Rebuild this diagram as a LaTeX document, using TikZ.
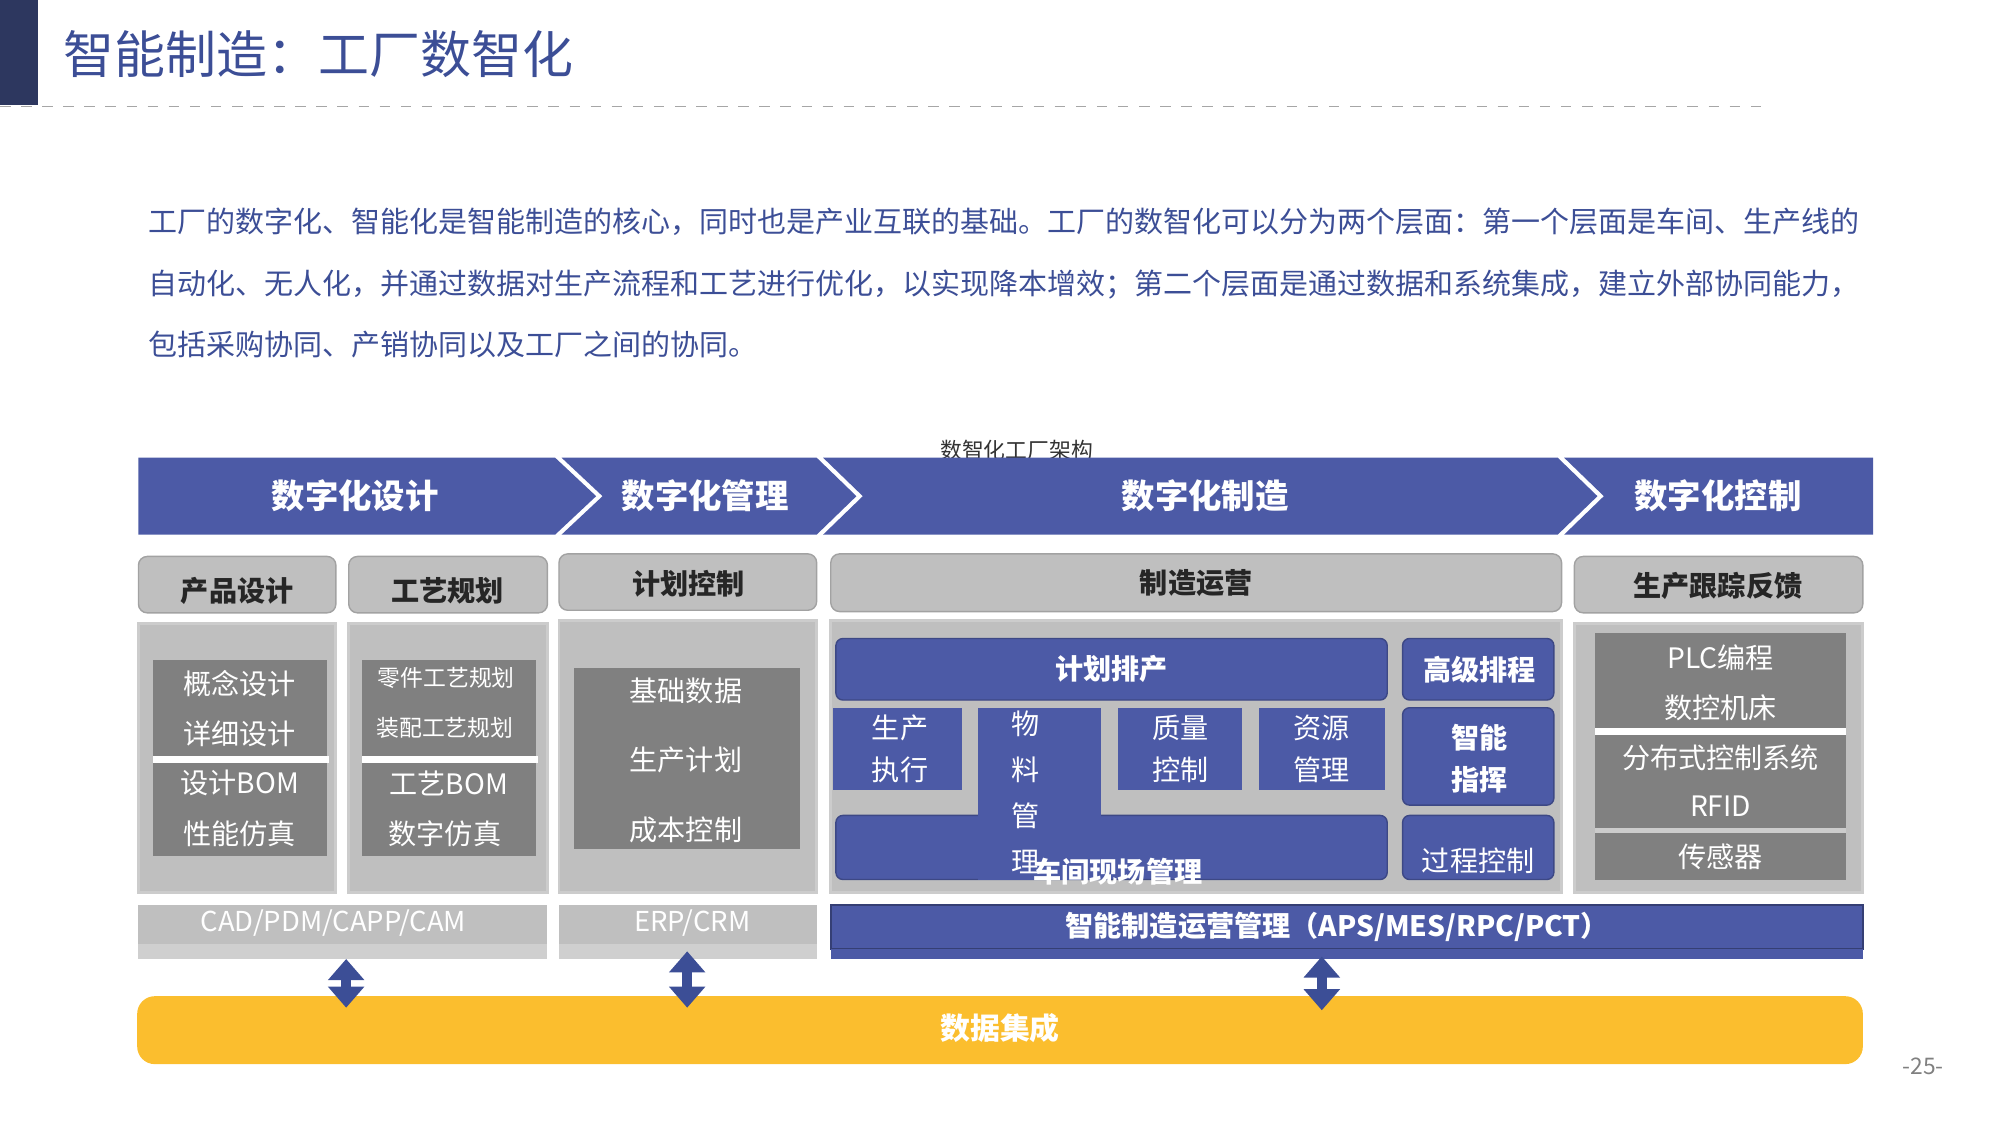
\documentclass[tikz,border=0pt]{standalone}
\usepackage{fontspec}
\setmainfont{Noto Sans CJK SC}
\newfontfamily\titlefont{Noto Sans CJK SC Light}
\usetikzlibrary{arrows.meta}
\definecolor{bl}{RGB}{76,90,166}
\definecolor{navy}{RGB}{45,55,95}
\definecolor{tblue}{RGB}{60,78,150}
\definecolor{lg}{RGB}{191,191,191}
\definecolor{dg}{RGB}{128,128,128}
\definecolor{yel}{RGB}{251,190,46}
\tikzset{
  ban/.style={fill=bl,draw=none},
  bantxt/.style={text=white,font=\fontsize{9.5}{11}\selectfont\bfseries},
  hdr/.style={fill=lg,draw=lg!85!black,line width=0.4pt,rounded corners=2.5pt},
  hdrtxt/.style={font=\fontsize{8}{10}\selectfont\bfseries,text=black!85},
  panel/.style={fill=lg,draw=lg!80!white,line width=0.8pt},
  dbox/.style={fill=dg,draw=none},
  wt/.style={text=white,font=\fontsize{8}{10}\selectfont},
  wts/.style={text=white,font=\fontsize{6.5}{8}\selectfont},
  bbox/.style={fill=bl,draw=bl!80!black,line width=0.4pt,rounded corners=2pt},
  darr/.style={draw=tblue,line width=3pt,{Triangle[width=10pt,length=6pt]}-{Triangle[width=10pt,length=6pt]}}
}
\begin{document}
\begin{tikzpicture}[x=0.01282cm,y=-0.01282cm]
\useasboundingbox (0,0) rectangle (1560,877.5);
% title
\fill[navy] (0,0) rectangle (30,82);
\node[anchor=west,text=tblue,font=\fontsize{14.5}{16}\selectfont] (title) at (40,42) {智能制造：工厂数智化};
\draw[gray!70,dashed,line width=0.4pt] (0,83) -- (1380,83);
% paragraph
\begin{scope}[every node/.style={anchor=west,text=tblue,font=\fontsize{8.25}{9}\selectfont}]
\node (p1) at (106,173) {工厂的数字化、智能化是智能制造的核心，同时也是产业互联的基础。工厂的数智化可以分为两个层面：第一个层面是车间、生产线的};
\node (p2) at (106,222) {自动化、无人化，并通过数据对生产流程和工艺进行优化，以实现降本增效；第二个层面是通过数据和系统集成，建立外部协同能力，};
\node (p3) at (106,269) {包括采购协同、产销协同以及工厂之间的协同。};
\end{scope}
\node[font=\fontsize{6.2}{7}\selectfont,text=black!80] (cap) at (793,351) {数智化工厂架构};
% banner
\fill[ban] (108,357) -- (433,357) -- (465,387) -- (433,417) -- (108,417) -- cycle;
\fill[ban] (438,357) -- (637,357) -- (668,387) -- (637,417) -- (438,417) -- (470,387) -- cycle;
\fill[ban] (642,357) -- (1215,357) -- (1246,387) -- (1215,417) -- (642,417) -- (673,387) -- cycle;
\fill[ban] (1220,357) -- (1461,357) -- (1461,417) -- (1220,417) -- (1251,387) -- cycle;
\node[bantxt] (b1) at (277,387) {数字化设计};
\node[bantxt] (b2) at (550,387) {数字化管理};
\node[bantxt] (b3) at (940,387) {数字化制造};
\node[bantxt] (b4) at (1340,387) {数字化控制};
% headers
\draw[hdr] (108,434) rectangle (262,478); \node[hdrtxt] (h1) at (185,461) {产品设计};
\draw[hdr] (272,434) rectangle (427,478); \node[hdrtxt] (h2) at (349,461) {工艺规划};
\draw[hdr] (436,432) rectangle (637,476); \node[hdrtxt] (h3) at (537,455) {计划控制};
\draw[hdr] (648,432) rectangle (1218,477); \node[hdrtxt] (h4) at (933,455) {制造运营};
\draw[hdr] (1228,434) rectangle (1453,478); \node[hdrtxt] (h5) at (1340,457) {生产跟踪反馈};
% panels
\draw[panel] (108,486) rectangle (262,696);
\draw[panel] (272,486) rectangle (427,696);
\draw[panel] (436,484) rectangle (637,696);
\draw[panel] (648,484) rectangle (1218,696);
\draw[panel] (1228,486) rectangle (1453,696);
% design
\fill[dbox] (119,515) rectangle (255,668);
\fill[white] (119,590) rectangle (257,595);
\node[wt] (d1) at (187,533) {概念设计};
\node[wt] (d2) at (187,572) {详细设计};
\node[wt] (d3) at (187,611) {设计BOM};
\node[wt] (d4) at (187,650) {性能仿真};
\fill[dbox] (282,515) rectangle (418,668);
\fill[white] (282,590) rectangle (420,595);
\node[wts] (e1) at (348,529) {零件工艺规划};
\node[wts] (e2) at (347,568) {装配工艺规划};
\node[wt] (e3) at (350,611) {工艺BOM};
\node[wt] (e4) at (347,650) {数字仿真};
% plan
\fill[dbox] (448,521) rectangle (624,662);
\node[wt] (f1) at (535,539) {基础数据};
\node[wt] (f2) at (535,593) {生产计划};
\node[wt] (f3) at (535,647) {成本控制};
% manufacturing
\draw[bbox] (652,498) rectangle (1082,546); \node[wt,font=\fontsize{8}{10}\selectfont\bfseries] (m1) at (867,522) {计划排产};
\draw[bbox] (1094,498) rectangle (1212,546); \node[wt,font=\fontsize{8}{10}\selectfont\bfseries] (m2) at (1154,522) {高级排程};
\draw[bbox] (652,636) rectangle (1082,686);
\fill[bl] (650,552) rectangle (750,616);
\node[wt,align=center] (m3) at (702,584) {生产\\[2pt]执行};
\fill[bl] (763,552) rectangle (859,686);
\node[wt,align=center] (m4) at (800,618) {物\\[3pt]料\\[3pt]管\\[3pt]理};
\fill[bl] (872,552) rectangle (969,616);
\node[wt,align=center] (m5) at (921,584) {质量\\[2pt]控制};
\fill[bl] (982,552) rectangle (1080,616);
\node[wt,align=center] (m6) at (1031,584) {资源\\[2pt]管理};
\draw[bbox] (1094,552) rectangle (1212,628);
\node[wt,align=center,font=\fontsize{8}{10}\selectfont\bfseries] (m7) at (1154,592) {智能\\[2pt]指挥};
\draw[bbox] (1094,636) rectangle (1212,686);
\node[wt] (m8) at (1153,671) {过程控制};
\node[wt,font=\fontsize{8}{10}\selectfont\bfseries] (m9) at (872,680) {车间现场管理};
% control
\fill[dbox] (1244,494) rectangle (1440,686);
\fill[white] (1244,568) rectangle (1440,573);
\fill[lg!80!white] (1244,646) rectangle (1440,650);
\node[wt] (c1) at (1342,513) {PLC编程};
\node[wt] (c2) at (1342,552) {数控机床};
\node[wt] (c3) at (1342,591) {分布式控制系统};
\node[wt] (c4) at (1342,629) {RFID};
\node[wt] (c5) at (1342,668) {传感器};
% bottom bars
\fill[lg] (108,706) rectangle (427,736); \fill[lg!75!white] (108,736) rectangle (427,748);
\node[wt,font=\fontsize{7.8}{9}\selectfont] (s1) at (260,720) {CAD/PDM/CAPP/CAM};
\fill[lg] (436,706) rectangle (637,736); \fill[lg!75!white] (436,736) rectangle (637,748);
\node[wt,font=\fontsize{7.8}{9}\selectfont] (s2) at (540,720) {ERP/CRM};
\draw[fill=bl,draw=bl!70!black,line width=0.6pt] (648,706) rectangle (1453,740);
\fill[bl] (648,740) rectangle (1453,748);
\node[wt,font=\fontsize{8}{10}\selectfont\bfseries] (s3) at (1043,723) {智能制造运营管理（APS/MES/RPC/PCT）};
% data integration
\fill[yel,rounded corners=5pt] (107,777) rectangle (1453,830);
\node[wt,font=\fontsize{8.5}{10}\selectfont\bfseries] (di) at (780,802) {数据集成};
\coordinate (a1t) at (270,748); \coordinate (a1b) at (270,786);
\coordinate (a2t) at (536,742); \coordinate (a2b) at (536,786);
\coordinate (a3t) at (1031,746); \coordinate (a3b) at (1031,788);
\draw[darr] (a1t) -- (a1b);
\draw[darr] (a2t) -- (a2b);
\draw[darr] (a3t) -- (a3b);
\node[text=gray,font=\fontsize{6.5}{8}\selectfont] (pg) at (1500,832) {-25-};
\end{tikzpicture}
\end{document}
